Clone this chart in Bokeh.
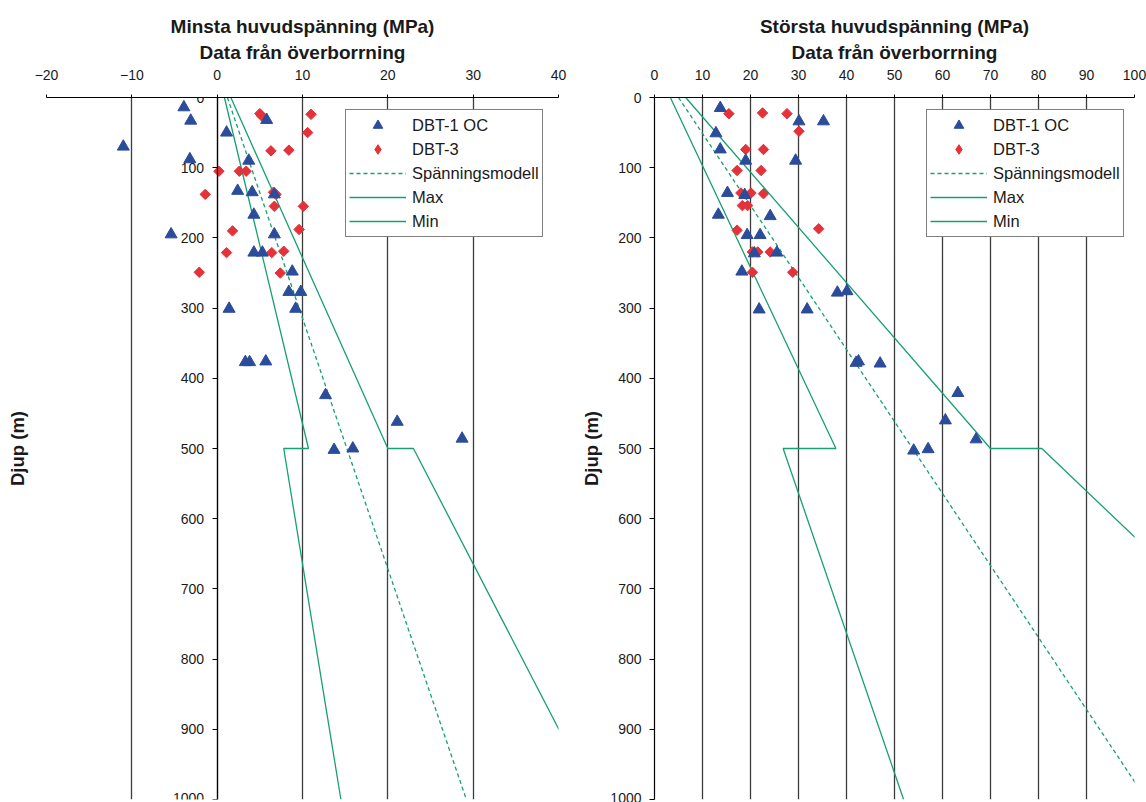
import math
from bokeh.plotting import figure
from bokeh.layouts import row
from bokeh.models import Range1d, FixedTicker, Title, Legend, LegendItem, LinearAxis
from bokeh.embed import file_html
from bokeh.resources import INLINE

FONT = "Liberation Sans"
BLUE = "#2b4c9b"
RED = "#e5323a"
GREEN = "#17a070"
TXT = "#1a1a1a"

# ---------------- data ----------------
depth_ticks = [0, 100, 200, 300, 400, 500, 600, 700, 800, 900, 1000]
min_x_ticks = [-20, -10, 0, 10, 20, 30, 40]
max_x_ticks = [0, 10, 20, 30, 40, 50, 60, 70, 80, 90, 100]

# Minsta huvudspänning (sigma3)
min_dbt1_x = [-3.9, -3.1, 5.8, 1.1, -11.0, -3.2, 3.7, 2.4, 4.1, 6.7, 4.3, 6.7, -5.4, 4.3,
              5.3, 8.8, 8.4, 9.8, 1.4, 9.2, 3.3, 3.8, 5.7, 12.7, 21.1, 28.7, 13.7, 15.9]
min_dbt1_d = [14, 33, 32, 50, 70, 88, 90, 133, 135, 138, 167, 195, 195, 221,
              221, 248, 277, 277, 301, 301, 377, 377, 376, 424, 462, 486, 502, 500]
min_dbt3_x = [5.0, 5.2, 11.0, 10.6, 6.3, 8.4, 0.2, 2.6, 3.4, -1.4, 6.6, 6.9, 6.7, 10.1,
              1.8, 9.6, 1.1, 6.4, 7.8, 7.4, -2.1]
min_dbt3_d = [23, 26, 24, 50, 76, 75, 105, 105, 105, 138, 135, 138, 155, 155,
              190, 188, 221, 221, 219, 250, 249]
min_model_x = [1.2, 29.2]
min_model_d = [0, 1000]
min_max_x = [1.6, 20.0, 23.0, 44.3]
min_max_d = [0, 500, 500, 1000]
min_min_x = [0.85, 10.7, 7.8, 14.5]
min_min_d = [0, 500, 500, 1000]

# Största huvudspänning (sigma1)
max_dbt1_x = [13.7, 30.1, 35.2, 12.8, 13.7, 19.0, 29.4, 15.2, 18.8, 13.3, 24.1, 19.3, 22.0, 20.8,
              25.5, 18.2, 38.1, 40.1, 21.8, 31.8, 42.0, 42.5, 47.0, 63.2, 60.6, 67.0, 54.0, 57.0]
max_dbt1_d = [15, 34, 34, 51, 74, 90, 90, 136, 139, 167, 169, 196, 196, 222,
              221, 248, 278, 276, 302, 302, 378, 376, 379, 421, 460, 487, 503, 501]
max_dbt3_x = [15.5, 22.5, 27.6, 30.1, 19.0, 22.7, 17.2, 22.2, 18.0, 20.1, 22.7, 18.3, 19.4, 34.2,
              17.2, 20.4, 21.5, 24.1, 20.4, 28.8]
max_dbt3_d = [23, 22, 23, 48, 74, 74, 104, 104, 136, 136, 137, 154, 154, 187,
              189, 220, 220, 220, 249, 249]
max_model_x = [5.0, 102.5]
max_model_d = [0, 1000]
max_max_x = [6.5, 70.0, 80.7, 157.3]
max_max_d = [0, 500, 500, 1000]
max_min_x = [3.3, 37.8, 26.8, 51.9]
max_min_d = [0, 500, 500, 1000]

legend_labels = ["DBT-1 OC", "DBT-3", "Spänningsmodell", "Max", "Min"]
y_label = "Djup (m)"

FIG_H = 802


def style_label(ax, standoff):
    ax.axis_label = y_label
    ax.axis_label_standoff = standoff
    ax.axis_label_text_font = FONT
    ax.axis_label_text_font_size = "18.5px"
    ax.axis_label_text_font_style = "bold"
    ax.axis_label_text_color = TXT


def make_panel(title1, title2, xr, xticks, tri, dia, model, mx, mn,
               width, mbl, mbr, legend_loc, axis_at_zero):
    p = figure(width=width, height=FIG_H, title=None,
               x_range=Range1d(*xr), y_range=Range1d(1000, 0),
               x_axis_location="above", output_backend="svg", toolbar_location=None,
               min_border_top=97, min_border_bottom=3,
               min_border_left=mbl, min_border_right=mbr)
    p.outline_line_color = None
    p.background_fill_color = "white"
    p.border_fill_color = "white"

    # axes
    xa = p.xaxis[0]
    xa.ticker = FixedTicker(ticks=xticks)
    xa.axis_line_color = "black"
    xa.axis_line_width = 1.2
    xa.major_tick_out = 3
    xa.major_tick_in = 0
    xa.major_tick_line_color = "black"
    xa.minor_tick_line_color = None
    xa.major_label_standoff = 15
    xa.major_label_text_font = FONT
    xa.major_label_text_font_size = "14px"
    xa.major_label_text_color = TXT

    ya = p.yaxis[0]
    ya.ticker = FixedTicker(ticks=depth_ticks)
    ya.axis_line_color = "black"
    ya.axis_line_width = 1.2
    ya.major_tick_out = 5
    ya.major_tick_in = 0
    ya.major_tick_line_color = "black"
    ya.minor_tick_line_color = None
    ya.major_label_standoff = 8
    ya.major_label_text_font = FONT
    ya.major_label_text_font_size = "14px"
    ya.major_label_text_color = TXT
    if axis_at_zero:
        # depth axis drawn at x = 0, label carried by a tick-less axis at the frame edge
        ya.fixed_location = 0
        lab = LinearAxis(ticker=FixedTicker(ticks=[]), axis_line_color=None,
                         major_tick_line_color=None, minor_tick_line_color=None)
        style_label(lab, 19)
        p.add_layout(lab, "left")
    else:
        style_label(ya, 5)

    p.xgrid.ticker = FixedTicker(ticks=xticks)
    p.xgrid.grid_line_color = "#3c3c3c"
    p.xgrid.grid_line_width = 1.3
    p.ygrid.grid_line_color = None

    # titles (later added = further out)
    p.add_layout(Title(text=title2, align="center", text_font=FONT, text_font_size="19px",
                       text_font_style="bold", text_color=TXT, standoff=7), "above")
    p.add_layout(Title(text=title1, align="center", text_font=FONT, text_font_size="19px",
                       text_font_style="bold", text_color=TXT, standoff=-1), "above")

    # model lines
    r_model = p.line(model[0], model[1], line_color=GREEN, line_width=1.3, line_dash="4 3")
    r_max = p.line(mx[0], mx[1], line_color=GREEN, line_width=1.3)
    r_min = p.line(mn[0], mn[1], line_color=GREEN, line_width=1.3)

    # points
    p.scatter(dia[0], dia[1], marker="square", angle=math.pi / 4, size=7.4,
              fill_color=RED, line_color=RED)
    r_tri = p.scatter(tri[0], tri[1], marker="triangle", size=12,
                      fill_color=BLUE, line_color=BLUE)
    # hidden twin of the diamonds, only used for the legend symbol
    r_dia_leg = p.scatter(dia[0], dia[1], marker="diamond", size=12,
                          fill_color=RED, line_color=RED, visible=False)

    legend = Legend(items=[
        LegendItem(label=legend_labels[0], renderers=[r_tri]),
        LegendItem(label=legend_labels[1], renderers=[r_dia_leg]),
        LegendItem(label=legend_labels[2], renderers=[r_model]),
        LegendItem(label=legend_labels[3], renderers=[r_max]),
        LegendItem(label=legend_labels[4], renderers=[r_min]),
    ], location=legend_loc)
    legend.label_text_font = FONT
    legend.label_text_font_size = "16.5px"
    legend.label_text_color = TXT
    legend.glyph_width = 57
    legend.glyph_height = 24
    legend.label_height = 24
    legend.label_standoff = 6
    legend.spacing = 0
    legend.padding = 3
    legend.margin = 0
    legend.inactive_fill_alpha = 0
    legend.border_line_color = "black"
    legend.border_line_width = 1
    legend.background_fill_color = "white"
    legend.background_fill_alpha = 1
    p.add_layout(legend)
    return p


p1 = make_panel("Minsta huvudspänning (MPa)", "Data från överborrning", (-20, 40), min_x_ticks,
                (min_dbt1_x, min_dbt1_d), (min_dbt3_x, min_dbt3_d),
                (min_model_x, min_model_d), (min_max_x, min_max_d), (min_min_x, min_min_d),
                width=578, mbl=46, mbr=20, legend_loc=(299, 562), axis_at_zero=True)
p2 = make_panel("Största huvudspänning (MPa)", "Data från överborrning", (0, 100), max_x_ticks,
                (max_dbt1_x, max_dbt1_d), (max_dbt3_x, max_dbt3_d),
                (max_model_x, max_model_d), (max_max_x, max_max_d), (max_min_x, max_min_d),
                width=568, mbl=75, mbr=12, legend_loc=(272, 562), axis_at_zero=False)

layout = row(p1, p2)
open("out.html", "w").write(file_html(layout, INLINE))
